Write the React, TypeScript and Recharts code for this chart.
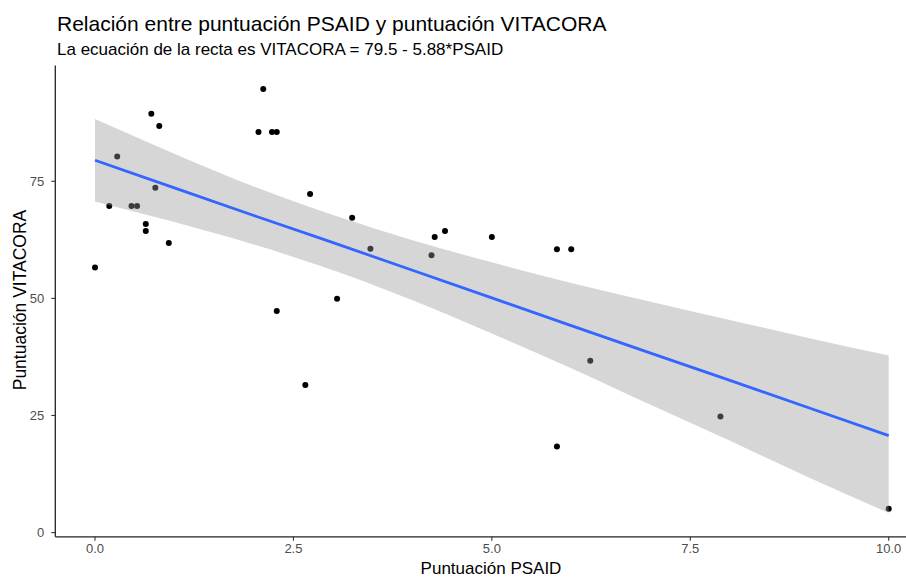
import { ComposedChart, Scatter, Area, Line, XAxis, YAxis } from "recharts";

const psaid = [0, 0.18, 0.28, 0.46, 0.53, 0.64, 0.64, 0.71, 0.76, 0.81, 0.93, 2.06, 2.12, 2.23, 2.29, 2.29, 2.71, 2.65, 3.05, 3.24, 3.47, 4.24, 4.28, 4.41, 5.0, 5.82, 5.82, 6.0, 6.24, 7.88, 10];
const vitacora = [56.6, 69.7, 80.3, 69.7, 69.7, 65.9, 64.4, 89.4, 73.6, 86.8, 61.8, 85.5, 94.7, 85.5, 85.5, 47.3, 72.3, 31.5, 49.9, 67.2, 60.6, 59.2, 63.1, 64.4, 63.1, 60.5, 18.4, 60.5, 36.7, 24.8, 5.1];

// fitted line and confidence band (geom_smooth, method = "lm")
const fitX = [0, 1, 2, 3, 4, 5, 6, 7, 8, 9, 10];
const fitY = [79.5, 73.6, 67.7, 61.9, 56.0, 50.1, 44.2, 38.3, 32.5, 26.6, 20.7];
const bandLow = [70.7, 66.3, 61.5, 56.0, 49.6, 42.5, 35.1, 27.3, 19.6, 11.7, 4.2];
const bandHigh = [88.3, 80.9, 73.9, 67.8, 62.4, 57.7, 53.3, 49.3, 45.4, 41.5, 37.8];

const xTicks = [0, 2.5, 5, 7.5, 10];
const yTicks = [0, 25, 50, 75];

const FONT = '"Liberation Sans", Arial, sans-serif';

const points = psaid.map((x, i) => ({ x, y: vitacora[i] }));
const smooth = fitX.map((x, i) => ({ x, fit: fitY[i], band: [bandLow[i], bandHigh[i]] }));

const Dot = (props: any) => <circle cx={props.cx} cy={props.cy} r={3} fill="#000" />;

export default function App() {
  return (
    <div style={{ position: "absolute", left: 0, top: 0, width: 906, height: 577, overflow: "hidden", background: "#fff", fontFamily: FONT }}>
      <div style={{ position: "absolute", left: 57, top: 13, fontSize: 21, lineHeight: "21px", color: "#000", whiteSpace: "nowrap" }}>
        Relación entre puntuación PSAID y puntuación VITACORA
      </div>
      <div style={{ position: "absolute", left: 57, top: 41, fontSize: 17, lineHeight: "17px", color: "#000", whiteSpace: "nowrap" }}>
        La ecuación de la recta es VITACORA = 79.5 - 5.88*PSAID
      </div>

      <ComposedChart
        width={940}
        height={577}
        data={smooth}
        margin={{ top: 65.6, right: 11.6, bottom: 0, left: 0 }}
      >
        <XAxis
          type="number"
          dataKey="x"
          domain={[-0.5, 10.5]}
          allowDataOverflow
          ticks={xTicks}
          tickFormatter={(v: number) => v.toFixed(1)}
          height={40.2}
          tickSize={4}
          tickMargin={3}
          axisLine={{ stroke: "#222", strokeWidth: 1.3 }}
          tickLine={{ stroke: "#333", strokeWidth: 1.1 }}
          tick={{ fill: "#4d4d4d", fontSize: 13, fontFamily: FONT }}
        />
        <YAxis
          type="number"
          dataKey="y"
          domain={[-0.9, 99.7]}
          allowDataOverflow
          ticks={yTicks}
          width={55.3}
          tickSize={4}
          tickMargin={7}
          axisLine={{ stroke: "#222", strokeWidth: 1.3 }}
          tickLine={{ stroke: "#333", strokeWidth: 1.1 }}
          tick={{ fill: "#4d4d4d", fontSize: 13, fontFamily: FONT }}
        />
        {/* points first, the translucent band goes over them like in ggplot */}
        <Scatter data={points} dataKey="y" shape={Dot} zIndex={100} isAnimationActive={false} />
        <Area
          type="monotone"
          dataKey="band"
          stroke="none"
          fill="#999999"
          fillOpacity={0.4}
          dot={false}
          activeDot={false}
          zIndex={200}
          isAnimationActive={false}
        />
        <Line
          type="linear"
          dataKey="fit"
          stroke="#3366FF"
          strokeWidth={2.8}
          dot={false}
          activeDot={false}
          zIndex={300}
          isAnimationActive={false}
        />
      </ComposedChart>

      <div style={{ position: "absolute", left: 491, top: 560, transform: "translateX(-50%)", fontSize: 17, lineHeight: "17px", color: "#000", whiteSpace: "nowrap" }}>
        Puntuación PSAID
      </div>
      <div style={{ position: "absolute", left: 20, top: 300, transform: "translate(-50%, -50%) rotate(-90deg)", fontSize: 17.5, lineHeight: "17px", color: "#000", whiteSpace: "nowrap" }}>
        Puntuación VITACORA
      </div>
    </div>
  );
}
